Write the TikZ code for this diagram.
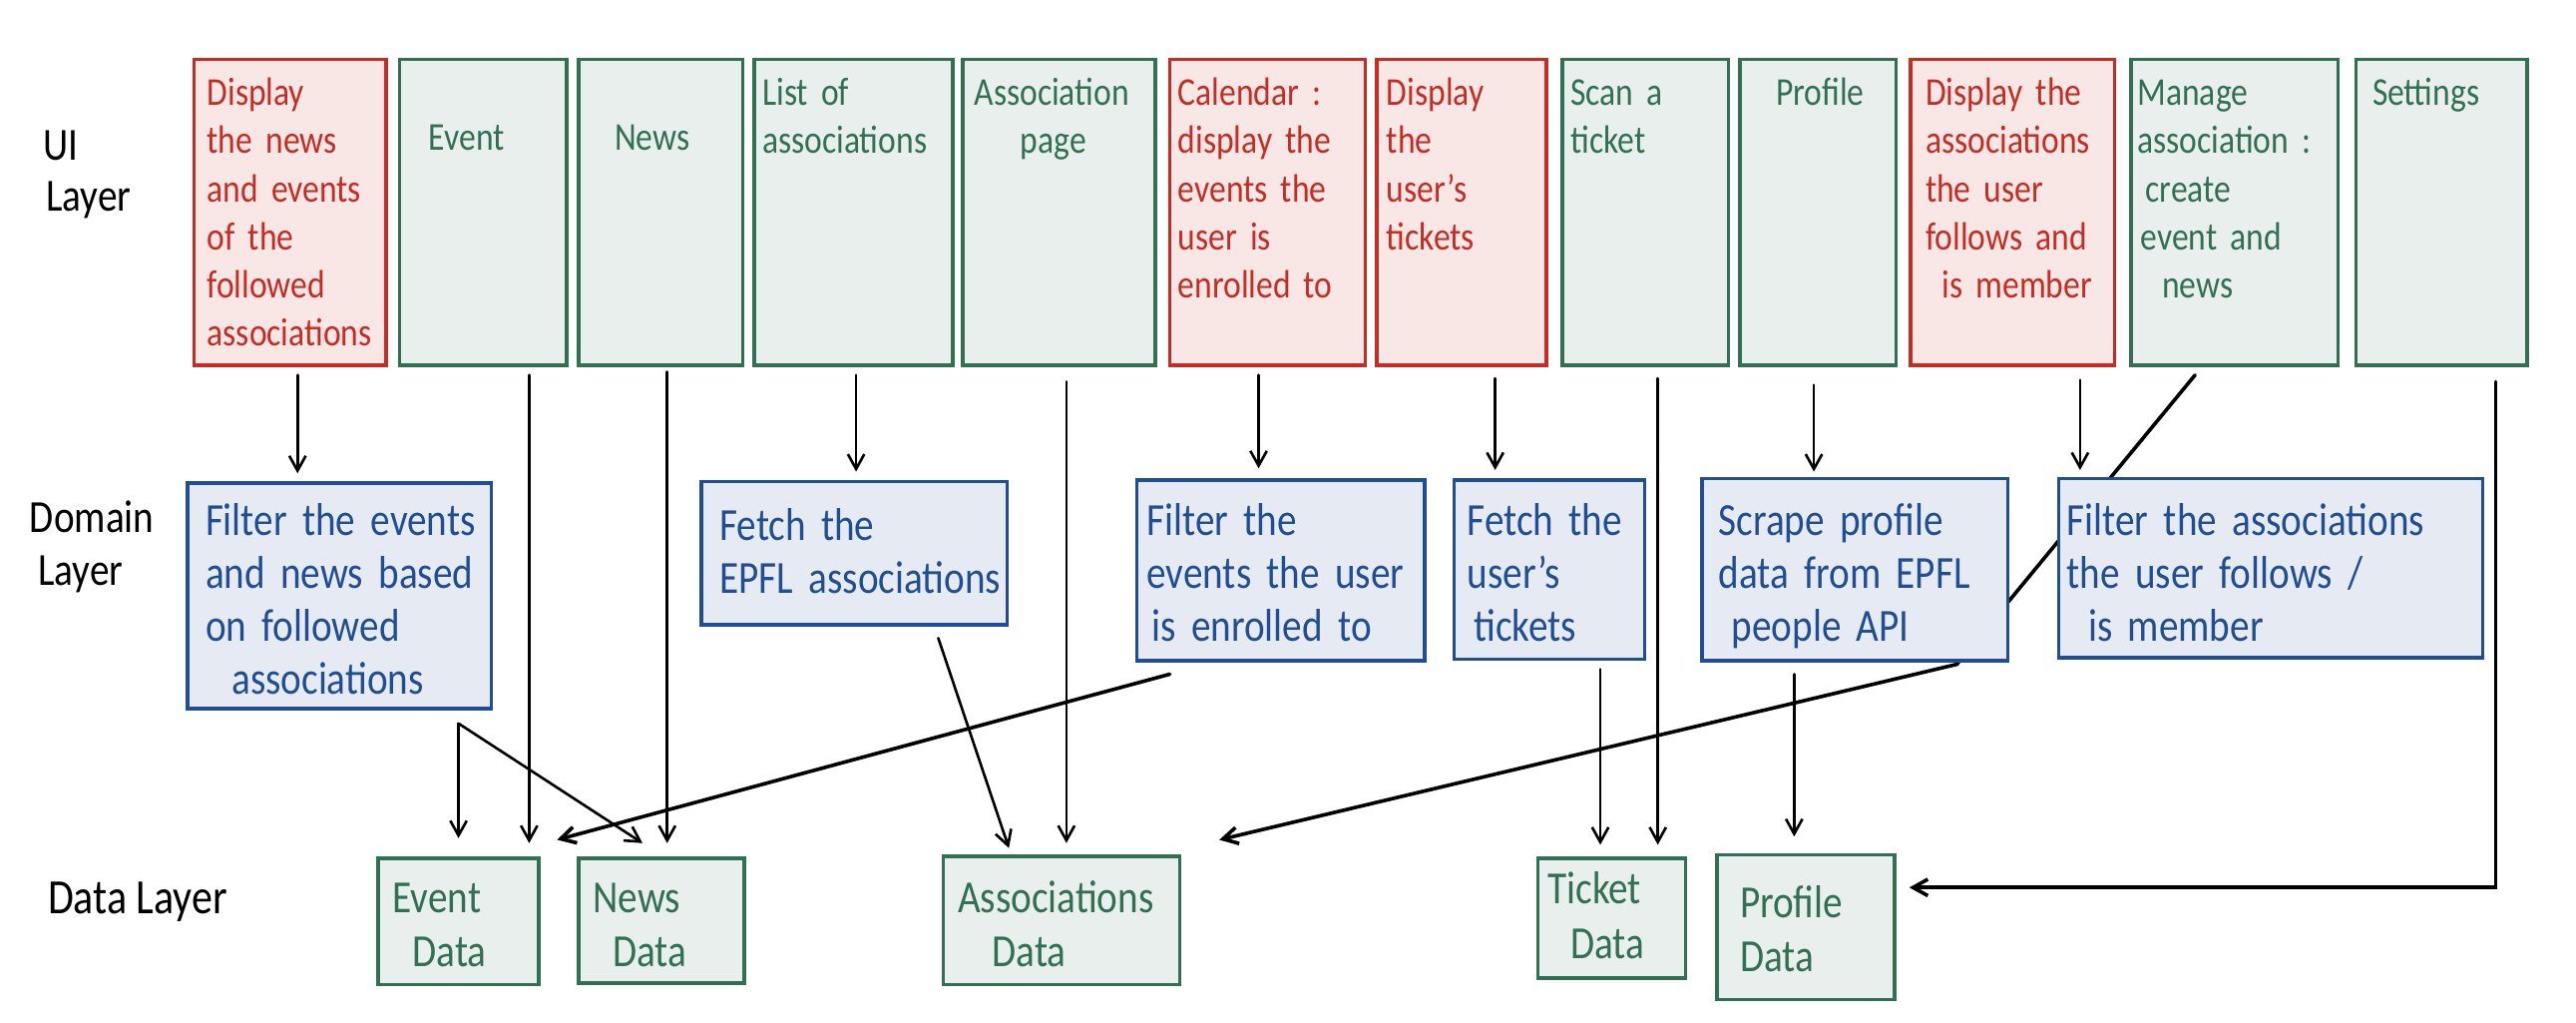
\documentclass[tikz,border=0pt]{standalone}
\usepackage{fontspec}
\setmainfont{Carlito}[FakeStretch=0.85]
\usetikzlibrary{arrows.meta,calc}
\definecolor{redS}{RGB}{196,44,36}
\definecolor{redF}{RGB}{249,231,230}
\definecolor{grnS}{RGB}{50,112,84}
\definecolor{grnF}{RGB}{233,239,236}
\definecolor{bluS}{RGB}{33,78,146}
\definecolor{bluF}{RGB}{230,235,243}
\pgfdeclarelayer{bg}
\pgfsetlayers{bg,main}
\newcommand\bt[2]{\leftskip=#1pt\relax #2\par}
\tikzset{
  bx/.style={draw, line width=2.2pt, anchor=north west, inner xsep=0pt, inner ysep=0pt, align=left},
  uired/.style={bx, draw=redS, fill=redF, text=redS, font=\fontsize{24}{29.3}\selectfont},
  uigrn/.style={bx, draw=grnS, fill=grnF, text=grnS, font=\fontsize{24}{29.3}\selectfont},
  dom/.style={bx, draw=bluS, fill=bluF, text=bluS, font=\fontsize{28}{32}\selectfont},
  dat/.style={bx, draw=grnS, fill=grnF, text=grnS, font=\fontsize{28}{33}\selectfont},
  lay/.style={inner sep=0pt, text=black},
  arr/.style={-{Straight Barb[length=9pt,width=10pt]}, line width=1.6pt, line cap=round, black},
  arrb/.style={arr, line width=2.2pt},
}
\begin{document}
\begin{tikzpicture}[x=1pt,y=-1pt]
\useasboundingbox (0,0) rectangle (1568,622);

% layer labels
\node[lay, anchor=north west, align=left, text width=80pt, text height=20pt, text depth=0pt,
      font=\fontsize{28}{31}\selectfont] (lui) at (26,77) {\bt{0}{UI\\\hspace*{2pt}Layer}};
\node[lay, anchor=north west, align=left, text width=80pt, text height=20pt, text depth=0pt,
      font=\fontsize{28}{32}\selectfont] (ldom) at (18,304) {\bt{0}{Domain\\\hspace*{5pt}Layer}};
\node[lay, anchor=base west, font=\fontsize{30}{33}\selectfont] (ldat) at (29,556) {Data Layer};

% UI layer
\node[uired, text width=117pt, text height=28pt, text depth=158pt] (u1) at (117,35)
  {\bt{8}{Display\\the news\\and events\\of the\\followed\\associations}};
\node[uigrn, text width=102pt, text height=55pt, text depth=131pt] (u2) at (242,35)
  {\bt{18}{Event}};
\node[uigrn, text width=100pt, text height=55pt, text depth=131pt] (u3) at (351,35)
  {\bt{22}{News}};
\node[uigrn, text width=121pt, text height=28pt, text depth=158pt] (u4) at (458,35)
  {\bt{5}{List of\\associations}};
\node[uigrn, text width=117pt, text height=28pt, text depth=158pt] (u5) at (585,35)
  {\bt{7}{Association\\\hspace*{28pt}page}};
\node[uired, text width=119pt, text height=28pt, text depth=158pt] (u6) at (711,35)
  {\bt{5}{Calendar :\\display the\\events the\\user is\\enrolled to}};
\node[uired, text width=103pt, text height=28pt, text depth=158pt] (u7) at (837,35)
  {\bt{6}{Display\\the\\user's\\tickets}};
\node[uigrn, text width=101pt, text height=28pt, text depth=158pt] (u8) at (950,35)
  {\bt{5}{Scan a\\ticket}};
\node[uigrn, text width=95pt, text height=28pt, text depth=158pt] (u9) at (1058,35)
  {\bt{22}{Profile}};
\node[uired, text width=124pt, text height=28pt, text depth=158pt] (u10) at (1162,35)
  {\bt{9}{Display the\\associations\\the user\\follows and\\\hspace*{10pt}is member}};
\node[uigrn, text width=126pt, text height=28pt, text depth=158pt] (u11) at (1296,35)
  {\bt{4}{Manage\\association :\\\hspace*{5pt}create\\\hspace*{2pt}event and\\\hspace*{15pt}news}};
\node[uigrn, text width=104pt, text height=28pt, text depth=158pt] (u12) at (1433,35)
  {\bt{10}{Settings}};

% Domain layer
\node[dom, text width=185pt, text height=32pt, text depth=105pt] (d1) at (113,293)
  {\bt{11}{Filter the events\\and news based\\on followed\\\hspace*{16pt}associations}};
\node[dom, text width=186pt, text height=36pt, text depth=51pt] (d2) at (426,292)
  {\bt{11}{Fetch the\\EPFL associations}};
\node[dom, text width=175pt, text height=34pt, text depth=76pt] (d3) at (691,291)
  {\bt{6}{Filter the\\events the user\\\hspace*{3pt}is enrolled to}};
\node[dom, text width=116pt, text height=34pt, text depth=75pt] (d4) at (884,291)
  {\bt{8}{Fetch the\\user's\\\hspace*{4pt}tickets}};
\node[dom, text width=186pt, text height=35pt, text depth=76pt] (d5) at (1035,290)
  {\bt{10}{Scrape profile\\data from EPFL\\\hspace*{8pt}people API}};
\node[dom, text width=258pt, text height=35pt, text depth=74pt] (d6) at (1252,290)
  {\bt{5}{Filter the associations\\the user follows /\\\hspace*{13pt}is member}};

% Data layer
\node[dat, text width=98pt, text height=33pt, text depth=44pt] (e1) at (229,521)
  {\bt{9}{Event\\\hspace*{12pt}Data}};
\node[dat, text width=101pt, text height=33pt, text depth=43pt] (e2) at (351,521)
  {\bt{9}{News\\\hspace*{12pt}Data}};
\node[dat, text width=144pt, text height=34pt, text depth=44pt] (e3) at (573,520)
  {\bt{9}{Associations\\\hspace*{21pt}Data}};
\node[dat, text width=90pt, text height=28pt, text depth=45pt] (e4) at (935,521)
  {\bt{6}{Ticket\\\hspace*{14pt}Data}};
\node[dat, text width=108pt, text height=38pt, text depth=50pt] (e5) at (1044,519)
  {\bt{14}{Profile\\Data}};

% connectors
\begin{pgfonlayer}{bg}
\draw[arr] ($(u1.south)+(4.5,5)$) -- ($(d1.north)+(-25.5,-5)$);
\draw[arr] ($(u2.south)+(28,5)$) -- ($(e1.north)+(43,-8)$);
\draw[arr] ($(u3.south)+(4,3)$) -- ($(e2.north)+(3.5,-8)$);
\draw[arr] ($(u4.south)+(1.5,5)$) -- ($(d2.north)+(1,-5)$);
\draw[arr] ($(u5.south)+(4.5,9)$) -- ($(e3.north)+(3,-7)$);
\draw[arr] ($(u6.south)+(-5.5,5)$) -- ($(d3.north)+(-13.5,-6)$);
\draw[arr] ($(u7.south)+(20.5,7)$) -- ($(d4.north)+(-33,-5)$);
\draw[arr] ($(u8.south)+(7.5,7)$) -- ($(e4.north)+(28,-7)$);
\draw[arr] ($(u9.south)+(-2.5,11)$) -- ($(d5.north)+(-25,-3)$);
\draw[arr] ($(u10.south)+(41,8)$) -- ($(d6.north)+(-116,-4)$);
\draw[arrb] ($(u11.south)+(-24,5)$) -- ($(d5.south)+(62,1)$) -- ($(e3.north east)+(23,-9)$);
\draw[arrb] ($(u12.south)+(33,9)$) |- ($(e5.north east)+(8,21)$);
\draw[arr] ($(d1.south)+(72.5,8)$) -- ($(e1.north)+(0,-11)$);
\draw[arr] ($(d1.south)+(72.5,8)$) -- ($(e2.north)+(-11.5,-8)$);
\draw[arr] ($(d2.south)+(51,7)$) -- ($(e3.north)+(-32,-4)$);
\draw[arrb] ($(d3.south)+(-67.5,7)$) -- ($(e1.north)+(60,-10)$);
\draw[arr] ($(d4.south)+(31,5)$) -- ($(e4.north)+(-7,-7)$);
\draw[arr] ($(d5.south)+(-37,7)$) -- ($(e5.north)+(-7,-10)$);
\end{pgfonlayer}
\end{tikzpicture}
\end{document}
